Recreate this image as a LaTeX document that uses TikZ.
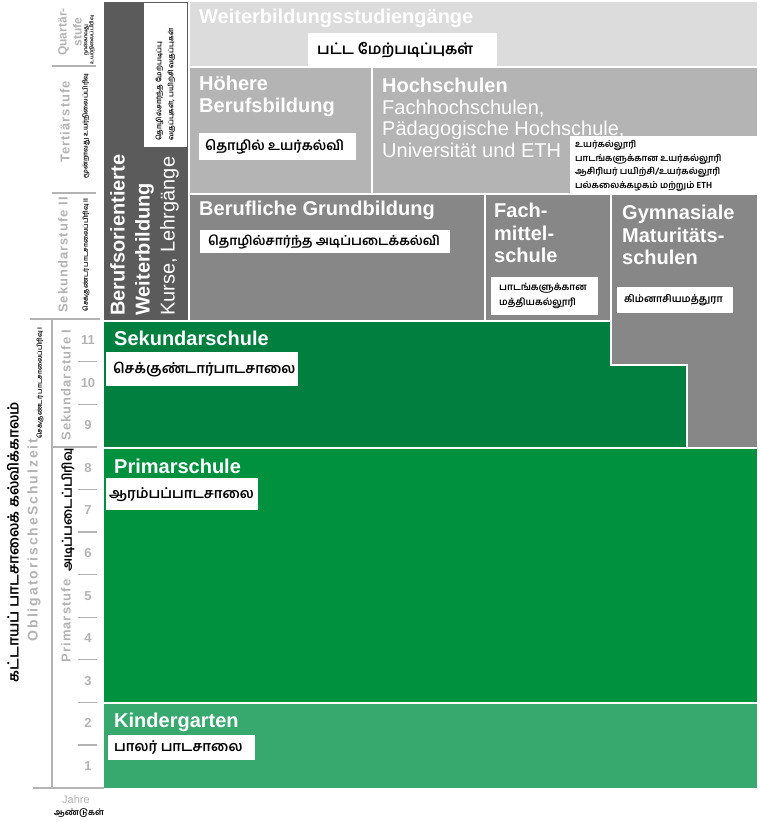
\documentclass[tikz,border=0pt]{standalone}
\usepackage{fontspec}
\setmainfont{Liberation Sans}
\newfontfamily\spaced[LetterSpace=8]{Liberation Sans}
\newfontfamily\wide[LetterSpace=14]{Liberation Sans}
\newfontfamily\tamil[Script=Tamil]{Hind Madurai}
\usetikzlibrary{positioning}

\definecolor{bowgray}{HTML}{5B5B5B}
\definecolor{wbsgray}{HTML}{DCDCDC}
\definecolor{tergray}{HTML}{B4B4B4}
\definecolor{sekgray}{HTML}{878787}
\definecolor{sekgreen}{HTML}{007F3F}
\definecolor{primgreen}{HTML}{00913F}
\definecolor{kggreen}{HTML}{37A96E}
\definecolor{lvlgray}{HTML}{B3B3B3}

\begin{document}
\begin{tikzpicture}[x=1pt,y=-1pt,
  area/.style={draw=white,line width=2pt},
  hd/.style={anchor=north west,inner sep=0pt,align=left,text=white,
    font=\bfseries\fontsize{20}{21.5}\selectfont},
  tbox/.style={fill=white,anchor=north west,inner sep=0pt},
  ttext/.style={inner sep=0pt,align=left,text=black,
    font=\tamil\bfseries\fontsize{14}{16}\selectfont},
  lvl/.style={rotate=90,inner sep=0pt,align=center,text=lvlgray,
    font=\spaced\bfseries\fontsize{13}{15}\selectfont},
  tiny/.style={rotate=90,inner sep=0pt,align=center,text=black,
    font=\tamil\bfseries\fontsize{6.5}{7}\selectfont},
  yr/.style={text=lvlgray,font=\bfseries\fontsize{13}{14}\selectfont},
  rule/.style={draw=lvlgray,line width=1.2pt}]

\useasboundingbox (0,0) rectangle (760,822);

% areas
\fill[bowgray,area] (103,1) rectangle (189,321);
\fill[wbsgray,area] (189,1) rectangle (758,67);
\fill[tergray,area] (189,67) rectangle (372,194);
\fill[tergray,area] (372,67) rectangle (758,194);
\fill[sekgray,area] (189,194) rectangle (485,321);
\fill[sekgray,area] (485,194) rectangle (611,321);
\fill[sekgray,area] (611,194) -- (758,194) -- (758,448) -- (687,448) -- (687,365) -- (611,365) -- cycle;
\fill[sekgreen,area] (103,321) -- (611,321) -- (611,365) -- (687,365) -- (687,448) -- (103,448) -- cycle;
\fill[primgreen,area] (103,448) rectangle (758,703);
\fill[kggreen,area] (103,703) rectangle (758,789);

% titles
\node[hd] (wbs) at (199,9) {Weiterbildungsstudiengänge};
\node[hd] (hbb) at (199,76) {Höhere\\Berufsbildung};
\node[hd] (hs) at (382,78) {Hochschulen\\{\mdseries Fachhochschulen,}\\{\mdseries Pädagogische Hochschule,}\\{\mdseries Universität und ETH}};
\node[hd] (bgb) at (199,201) {Berufliche Grundbildung};
\node[hd,font=\bfseries\fontsize{20}{22.5}\selectfont] (fms) at (494,203) {Fach-\\mittel-\\schule};
\node[hd,font=\bfseries\fontsize{20}{22.5}\selectfont] (gms) at (622,205) {Gymnasiale\\Maturitäts-\\schulen};
\node[hd] (sek) at (114,331) {Sekundarschule};
\node[hd] (prim) at (114,459) {Primarschule};
\node[hd] (kg) at (114,713) {Kindergarten};
\node[hd,rotate=90,font=\bfseries\fontsize{20}{25}\selectfont] (bow) at (110,316)
  {Berufsorientierte\\Weiterbildung\\{\mdseries Kurse, Lehrgänge}};

% tamil boxes
\node[tbox,minimum width=189,minimum height=33] (wbs-ta) at (308,33) {};
\node[ttext,right=9pt of wbs-ta.west,font=\tamil\bfseries\fontsize{15}{16}\selectfont] {பட்ட மேற்படிப்புகள்};
\node[tbox,minimum width=157,minimum height=27] (hbb-ta) at (199,133) {};
\node[ttext,right=6pt of hbb-ta.west,font=\tamil\bfseries\fontsize{13.5}{16}\selectfont] {தொழில் உயர்கல்வி};
\node[tbox,minimum width=187,minimum height=59] (hs-ta) at (570,136) {};
\node[ttext,right=5pt of hs-ta.west,font=\tamil\bfseries\fontsize{9}{13.5}\selectfont]
  {உயர்கல்லூரி\\பாடங்களுக்கான உயர்கல்லூரி\\ஆசிரியர் பயிற்சி/உயர்கல்லூரி\\பல்கலைக்கழகம் மற்றும் ETH};
\node[tbox,minimum width=250,minimum height=23] (bgb-ta) at (200,230) {};
\node[ttext,right=8pt of bgb-ta.west,font=\tamil\bfseries\fontsize{13}{16}\selectfont] {தொழில்சார்ந்த அடிப்படைக்கல்வி};
\node[tbox,minimum width=107,minimum height=38] (fms-ta) at (491,277) {};
\node[ttext,right=8pt of fms-ta.west,font=\tamil\bfseries\fontsize{9.5}{15}\selectfont] {பாடங்களுக்கான\\மத்தியகல்லூரி};
\node[tbox,minimum width=116,minimum height=26] (gms-ta) at (617,287) {};
\node[ttext,right=7pt of gms-ta.west,font=\tamil\bfseries\fontsize{10}{13}\selectfont] {கிம்னாசியமத்துரா};
\node[tbox,minimum width=192,minimum height=34] (sek-ta) at (106,352) {};
\node[ttext,right=7pt of sek-ta.west] {செக்குண்டார்பாடசாலை};
\node[tbox,minimum width=152,minimum height=32] (prim-ta) at (106,478) {};
\node[ttext,right=3pt of prim-ta.west] {ஆரம்பப்பாடசாலை};
\node[tbox,minimum width=147,minimum height=25] (kg-ta) at (108,735) {};
\node[ttext,right=6pt of kg-ta.west] {பாலர் பாடசாலை};
\node[tbox,rotate=90,minimum width=144,minimum height=43] (bow-ta) at (144,147) {};
\node[ttext,rotate=90,anchor=west,font=\tamil\bfseries\fontsize{7}{12}\selectfont] at (165.5,141)
  {தொழில்சார்ந்த மேற்படிப்பு\\வகுப்புகள், பயிற்சி வகுப்புகள்};

% levels
\node[lvl,font=\bfseries\fontsize{12}{15}\selectfont] (quart) at (70,32) {Quartär-\\stufe};
\node[tiny,font=\tamil\bfseries\fontsize{5}{6}\selectfont] (quart-ta) at (89,40) {நான்காவது\\உயர்நிலைப்பிரிவு};
\node[lvl] (tert) at (65,122) {Tertiärstufe};
\node[tiny] (tert-ta) at (86,126) {மூன்றாவது உயர்நிலைப்பிரிவு};
\node[lvl] (sek2) at (63,255) {Sekundarstufe II};
\node[tiny] (sek2-ta) at (86,255) {செக்குண்டர் பாடசாலைப்பிரிவு II};
\node[lvl] (sek1) at (66,385) {Sekundarstufe I};
\node[tiny] (sek1-ta) at (40,383) {செக்குண்டர் பாடசாலைப்பிரிவு I};
\node[lvl] (primst) at (66,621) {Primarstufe};
\node[tiny,font=\tamil\bfseries\fontsize{13}{14}\selectfont] (primst-ta) at (68,510) {அடிப்படைப்பிரிவு};
\node[lvl,font=\wide\bfseries\fontsize{14}{15}\selectfont] (obl) at (34,540) {ObligatorischeSchulzeit};
\node[tiny,font=\tamil\bfseries\fontsize{14.5}{15}\selectfont] (obl-ta) at (13,542) {கட்டாயப் பாடசாலைக் கல்விக்காலம்};
\node[text=lvlgray,font=\fontsize{11}{12}\selectfont] (jahre) at (76,800) {Jahre};
\node[font=\tamil\bfseries\fontsize{8.5}{9}\selectfont] (jahre-ta) at (79,813) {ஆண்டுகள்};

% years and ticks
\foreach \n in {1,...,11}
  \node[yr] (y\n) at (88,{766-(\n-1)*42.6}) {\n};
\foreach \n in {1,...,7,9,10}
  \draw[rule] (78,{745-(\n-1)*42.6}) -- (97,{745-(\n-1)*42.6});

\draw[rule] (52,320) -- (52,788);
\draw[rule] (52,447) -- (97,447);
\draw[rule] (33,788) -- (104,788);
\draw[rule] (30,319) -- (100,319);
\foreach \y in {66,193}
  \draw[rule] (52,\y) -- (96,\y);

\end{tikzpicture}
\end{document}
